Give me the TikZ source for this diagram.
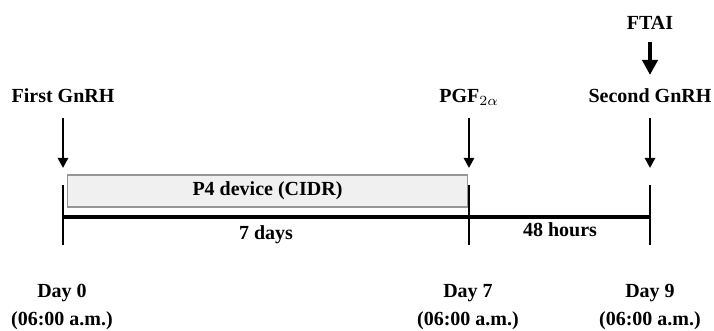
\documentclass[tikz,border=0pt]{standalone}
\usepackage{fontspec}
\setmainfont{Liberation Serif}
\definecolor{cidrfill}{RGB}{240,240,240}
\definecolor{cidrline}{RGB}{150,150,150}
\usetikzlibrary{arrows.meta,positioning}

\begin{document}
\begin{tikzpicture}[x=0.5pt, y=-0.5pt,
    lbl/.style={font=\fontsize{10}{12}\selectfont\bfseries, inner sep=0pt, anchor=base},
    drop/.style={-{Triangle[length=5pt,width=5pt]}, line width=1.3pt},
    bigdrop/.style={-{Triangle[length=7.5pt,width=7.5pt]}, line width=2pt},
    tickline/.style={line width=1.3pt},
    device/.style={rectangle, draw=cidrline, fill=cidrfill, line width=0.6pt, minimum width=200pt, minimum height=16pt, inner sep=0pt, font=\fontsize{10}{12}\selectfont\bfseries}
]
    \useasboundingbox (0,0) rectangle (714,331);

    % Treatments
    \node[lbl] (ftai) at (650,30) {FTAI};
    \node[lbl] (first) at (63,103) {First GnRH};
    \node[lbl] (pgf) at (469,103) {PGF$_{2\alpha}$};
    \node[lbl] (second) at (650,103) {Second GnRH};

    % Arrow ends
    \coordinate (ftaiA) at (650,42);
    \coordinate (ftaiB) at (650,75);
    \coordinate (firstA) at (63,118);
    \coordinate (firstB) at (63,168);
    \coordinate (pgfA) at (469,118);
    \coordinate (pgfB) at (469,168);
    \coordinate (secondA) at (650,118);
    \coordinate (secondB) at (650,168);

    % Device
    \node[device] (cidr) at (267.5,191) {P4 device (CIDR)};

    % Timeline
    \coordinate (t0) at (63,217);
    \coordinate (t7) at (469,217);
    \coordinate (t9) at (650,217);
    \coordinate (t0a) at (63,185);
    \coordinate (t0b) at (63,245);
    \coordinate (t7a) at (469,185);
    \coordinate (t7b) at (469,245);
    \coordinate (t9a) at (650,185);
    \coordinate (t9b) at (650,245);

    % Periods
    \node[lbl] (days) at (266,240) {7 days};
    \node[lbl] (hours) at (560,237) {48 hours};

    % Days
    \node[lbl] (day0) at (62,298) {Day 0};
    \node[lbl] (day7) at (468,298) {Day 7};
    \node[lbl] (day9) at (650,298) {Day 9};
    \node[lbl] (time0) at (62,326) {(06:00 a.m.)};
    \node[lbl] (time7) at (468,326) {(06:00 a.m.)};
    \node[lbl] (time9) at (650,326) {(06:00 a.m.)};

    % Arrows
    \draw[bigdrop] (ftaiA) -- (ftaiB);
    \draw[drop] (firstA) -- (firstB);
    \draw[drop] (pgfA) -- (pgfB);
    \draw[drop] (secondA) -- (secondB);

    % Line and ticks
    \draw[line width=2.4pt] (t0) -- (t9);
    \draw[tickline] (t0a) -- (t0b);
    \draw[tickline] (t7a) -- (t7b);
    \draw[tickline] (t9a) -- (t9b);
\end{tikzpicture}
\end{document}
